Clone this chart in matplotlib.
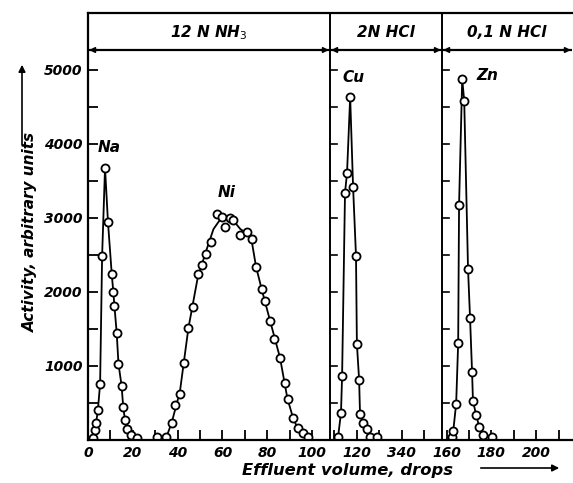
import matplotlib
matplotlib.use('Agg')
import matplotlib.pyplot as plt
from matplotlib.ticker import MultipleLocator, FixedLocator, FixedFormatter

# ── data ─────────────────────────────────────────────────────────────────────
na_x = [2.2, 3.0, 3.6, 4.4, 5.4, 6.3, 7.6, 8.9, 10.6, 11.3, 11.8, 12.8, 13.6,
        15.0, 15.7, 16.5, 17.5, 19.2, 21.7]
na_y = [30, 130, 230, 400, 760, 2490, 3680, 2950, 2240, 2000, 1810, 1450, 1030,
        730, 450, 270, 150, 70, 30]

ni_x = [30.6, 35, 37.3, 38.8, 41.1, 43, 44.8, 46.7, 49.2, 51, 52.5, 54.9, 57.4,
        59.6, 61, 63.4, 64.9, 67.9, 70.8, 73, 75, 77.5, 79, 81.3, 83, 85.7, 88,
        89.3, 91.5, 93.5, 95.9, 98.2]
ni_y = [40, 40, 230, 470, 620, 1040, 1510, 1800, 2240, 2360, 2510, 2680, 3060,
        3010, 2880, 3000, 2970, 2770, 2810, 2720, 2340, 2040, 1880, 1610, 1370,
        1110, 770, 550, 300, 160, 95, 40]
# drawn curve through the Ni points
ni_curve_x = [35, 37.3, 41, 44.8, 49, 53, 56, 59, 62, 65, 68, 71, 73, 75, 77.5,
              81, 85.7, 89, 91.5, 93.5, 96, 98.2]
ni_curve_y = [40, 230, 650, 1510, 2200, 2580, 2850, 2980, 3000, 2960, 2850, 2790,
              2700, 2340, 2040, 1640, 1110, 560, 300, 160, 95, 40]

cu_x = [111.6, 112.9, 113.4, 114.7, 115.6, 117.0, 118.3, 119.6, 120.0, 121.0,
        121.4, 122.8, 124.5, 125.9, 129]
cu_y = [40, 365, 865, 3340, 3610, 4635, 3420, 2490, 1300, 810, 350, 230, 150, 40, 40]

zn_x = [162.5, 163, 164.3, 165.2, 165.6, 167.0, 167.9, 169.6, 170.5, 171.4,
        171.8, 173.2, 174.6, 176.3, 180.3]
zn_y = [40, 120, 490, 1310, 3180, 4880, 4580, 2310, 1650, 920, 530, 340, 180, 70, 40]

eluent_edges = [0, 108, 158, 216]
eluent_names = ['12 N NH$_3$', '2N HCl', '0,1 N HCl']

x_tick_pos = [0, 20, 40, 60, 80, 100, 120, 140, 160, 180, 200]
x_tick_lab = ['0', '20', '40', '60', '80', '100', '120', '340', '160', '180', '200']
y_tick_pos = [1000, 2000, 3000, 4000, 5000]
y_tick_lab = ['1000', '2000', '3000', '4000', '5000']

# ── style ────────────────────────────────────────────────────────────────────
FONT = dict(fontweight='bold', fontstyle='italic', family='DejaVu Sans')
Y_DATA_TOP = 5270     # top of data area (header line)
Y_TOP = 5770          # top of frame

fig = plt.figure(figsize=(5.73, 4.83), dpi=100, facecolor='white')
ax = fig.add_axes([88 / 573, 1 - 440 / 483, (572 - 88) / 573, (440 - 13) / 483])
ax.set_xlim(eluent_edges[0], eluent_edges[-1])
ax.set_ylim(0, Y_TOP)

for s in ['left', 'bottom', 'top']:
    ax.spines[s].set_linewidth(1.6)
ax.spines['right'].set_visible(False)

mk = dict(marker='o', markersize=5.8, markerfacecolor='white', markeredgecolor='black',
          markeredgewidth=1.3, color='black', linewidth=1.3)
ax.plot(na_x, na_y, **mk)
ax.plot(ni_curve_x, ni_curve_y, color='black', linewidth=1.3)
ax.plot(ni_x, ni_y, linestyle='none', **{k: v for k, v in mk.items() if k not in ('color', 'linewidth')})
ax.plot(cu_x, cu_y, **mk)
ax.plot(zn_x, zn_y, **mk)

# header band and separators
ax.axhline(Y_DATA_TOP, color='black', linewidth=1.6)
for e in eluent_edges[1:-1]:
    ax.axvline(e, color='black', linewidth=1.4)
    for yt in range(500, 5001, 500):
        ax.plot([e, e + 3.2], [yt, yt], color='black', linewidth=1.2)
for lo, hi, name in zip(eluent_edges[:-1], eluent_edges[1:], eluent_names):
    ax.annotate('', xy=(lo + 0.5, Y_DATA_TOP), xytext=(hi - 0.5, Y_DATA_TOP),
                arrowprops=dict(arrowstyle='<|-|>', color='black', lw=1.2,
                                mutation_scale=8, shrinkA=0, shrinkB=0))
    ax.text((lo + hi) / 2, (Y_DATA_TOP + Y_TOP) / 2 - 20, name, ha='center',
            va='center', fontsize=11, **FONT)

# ticks
ax.xaxis.set_major_locator(FixedLocator(x_tick_pos))
ax.xaxis.set_major_formatter(FixedFormatter(x_tick_lab))
ax.xaxis.set_minor_locator(MultipleLocator(10))
ax.yaxis.set_major_locator(FixedLocator(y_tick_pos))
ax.yaxis.set_major_formatter(FixedFormatter(y_tick_lab))
ax.yaxis.set_minor_locator(FixedLocator(list(range(500, 5001, 500))))
ax.tick_params(which='both', direction='in', width=1.3, length=7, labelsize=10, pad=4)
for lab in ax.get_xticklabels() + ax.get_yticklabels():
    lab.set_fontweight('bold')
    lab.set_fontstyle('italic')

# peak labels
ax.text(9.5, 3950, 'Na', fontsize=11, ha='center', va='center', **FONT)
ax.text(62, 3350, 'Ni', fontsize=11, ha='center', va='center', **FONT)
ax.text(118.5, 4900, 'Cu', fontsize=11, ha='center', va='center', **FONT)
ax.text(178, 4920, 'Zn', fontsize=11, ha='center', va='center', **FONT)

# axis titles with arrows
fig.text(30 / 573, 1 - 232 / 483, 'Activity, arbitrary units', rotation=90,
         ha='center', va='center', fontsize=11, **FONT)
fig.add_artist(matplotlib.patches.FancyArrowPatch(
    (22 / 573, 1 - 147 / 483), (22 / 573, 1 - 62 / 483), transform=fig.transFigure,
    arrowstyle='-|>', mutation_scale=10, color='black', lw=1.2))
fig.text(348 / 573, 1 - 470 / 483, 'Effluent volume, drops', ha='center',
         va='center', fontsize=11.8, **FONT)
fig.add_artist(matplotlib.patches.FancyArrowPatch(
    (478 / 573, 1 - 468 / 483), (562 / 573, 1 - 468 / 483), transform=fig.transFigure,
    arrowstyle='-|>', mutation_scale=10, color='black', lw=1.2))

fig.savefig('out.png', dpi=100, facecolor='white')
